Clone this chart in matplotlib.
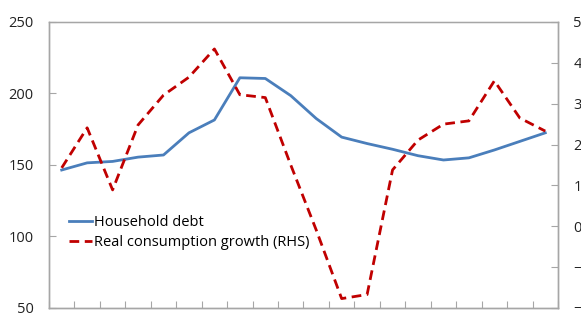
import numpy as np
import matplotlib
matplotlib.use("Agg")
from matplotlib import pyplot as plt

plt.rcParams['font.family'] = ['Open Sans', 'DejaVu Sans']

# 20 periods, no x labels shown
periods = list(range(20))
household_debt = [146.5, 151.5, 152.5, 155.5, 157, 172.5, 181.5, 211, 210.5, 198.5,
                  182.5, 169.5, 165, 161, 156.5, 153.5, 155, 160.5, 166.5, 172.5]
consumption_growth = [1.43, 2.41, 0.89, 2.48, 3.21, 3.65, 4.34, 3.22, 3.15, 1.5,
                      -0.09, -1.77, -1.67, 1.38, 2.11, 2.5, 2.58, 3.56, 2.65, 2.33]
left_ticks = [50, 100, 150, 200, 250]
right_ticks = [-2, -1, 0, 1, 2, 3, 4, 5]

grey = '#a6a6a6'

fig = plt.figure(figsize=(5.81, 3.17), dpi=100)
ax = fig.add_axes([0.0843, 0.0284, 0.8761, 0.9022])
ax2 = ax.twinx()

l1, = ax.plot(periods, household_debt, color='#4A7EBB', lw=2.0, label='Household debt')
l2, = ax2.plot(periods, consumption_growth, color='#C00000', lw=2.0,
               dashes=(3.5, 2), label='Real consumption growth (RHS)')

ax.set_xlim(-0.5, 19.5)
ax.set_ylim(50, 250)
ax.set_yticks(left_ticks)
ax2.set_ylim(-2, 5)
ax2.set_yticks(right_ticks)
ax.set_xticks(np.arange(-0.5, 20, 1))
ax.set_xticklabels([])

for a in (ax, ax2):
    for s in a.spines.values():
        s.set_color(grey)
        s.set_linewidth(1.0)
    a.tick_params(direction='in', color=grey, length=5, labelsize=10.5,
                  labelcolor='#222222')
ax.spines['top'].set_color('#d9d9d9')
ax.tick_params(axis='y', pad=11)
ax2.tick_params(axis='y', pad=11)

ax2.legend(handles=[l1, l2], loc='upper left', bbox_to_anchor=(0.027, 0.345),
           frameon=False, handlelength=1.6, handletextpad=0.15,
           labelspacing=0.35, fontsize=10.5, borderaxespad=0)

fig.savefig('out.png', dpi=100)
